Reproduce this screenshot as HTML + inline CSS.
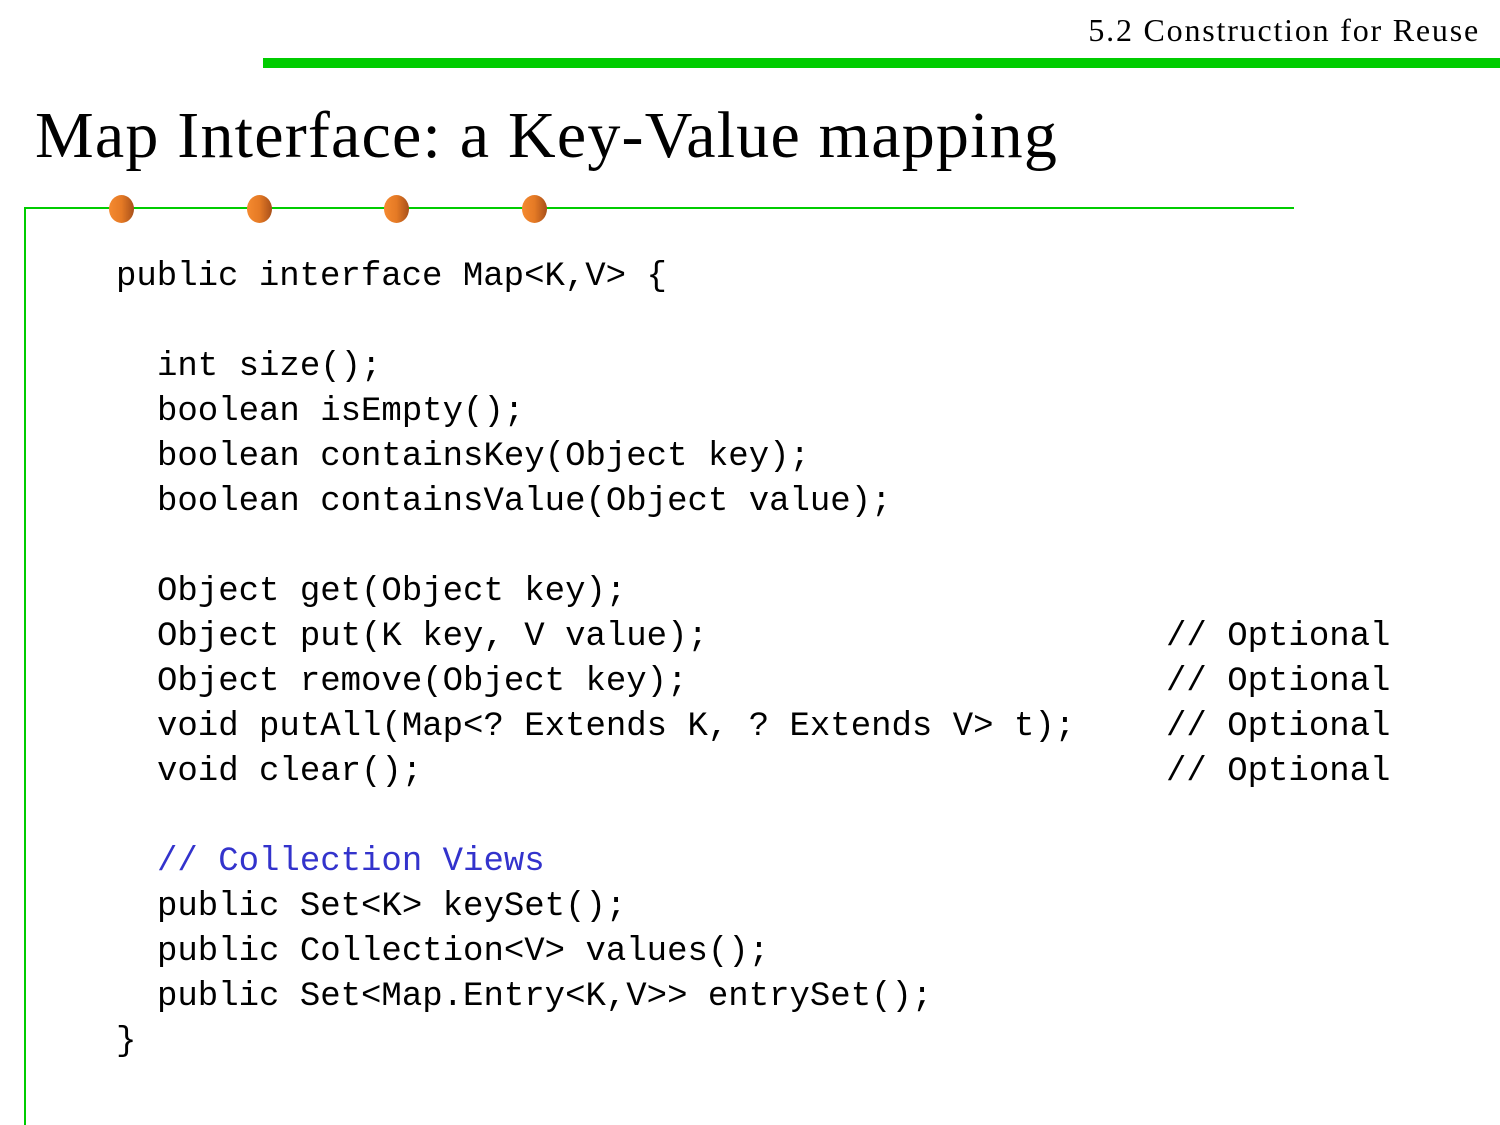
<!DOCTYPE html>
<html><head><style>
html,body{margin:0;padding:0;background:#fff;width:1500px;height:1125px;overflow:hidden;position:relative}
.s{font-family:"Liberation Serif",serif;position:absolute;white-space:nowrap;color:#000}
.c{font-family:"Liberation Mono",monospace;font-size:34px;position:absolute;white-space:pre;line-height:45px;color:#000}
.dot{position:absolute;width:25px;height:28px;border-radius:50%;background:linear-gradient(90deg,#f58a30,#e57a25 50%,#a8501a)}
</style></head><body>
<div style="position:absolute;left:263px;top:58px;width:1237px;height:10px;background:#00cc00"></div>
<div class="s" style="right:20px;top:12px;font-size:32px;letter-spacing:1.8px">5.2 Construction for Reuse</div>
<div class="s" style="left:35px;top:98px;font-size:66px;letter-spacing:1.2px">Map Interface: a Key-Value mapping</div>
<div style="position:absolute;left:24px;top:207px;width:1270px;height:2px;background:#00cc00"></div>
<div style="position:absolute;left:24px;top:207px;width:2px;height:918px;background:#00cc00"></div>
<div class="dot" style="left:109px;top:195px"></div>
<div class="dot" style="left:247px;top:195px"></div>
<div class="dot" style="left:384px;top:195px"></div>
<div class="dot" style="left:522px;top:195px"></div>
<div class="c" style="left:116px;top:255px">public interface Map&lt;K,V&gt; {</div>
<div class="c" style="left:157px;top:345px">int size();
boolean isEmpty();
boolean containsKey(Object key);
boolean containsValue(Object value);</div>
<div class="c" style="left:157px;top:570px">Object get(Object key);
Object put(K key, V value);
Object remove(Object key);
void putAll(Map&lt;? Extends K, ? Extends V&gt; t);
void clear();</div>
<div class="c" style="left:1166px;top:615px">// Optional
// Optional
// Optional
// Optional</div>
<div class="c" style="left:157px;top:840px"><span style="color:#3333cc">// Collection Views</span>
public Set&lt;K&gt; keySet();
public Collection&lt;V&gt; values();
public Set&lt;Map.Entry&lt;K,V&gt;&gt; entrySet();</div>
<div class="c" style="left:116px;top:1020px">}</div>
</body></html>
